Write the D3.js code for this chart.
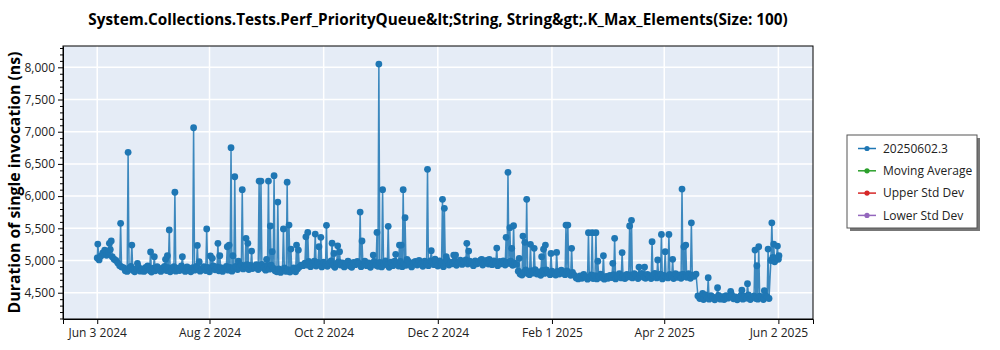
<!DOCTYPE html>
<html>
<head>
<meta charset="utf-8">
<script src="https://cdn.jsdelivr.net/npm/d3@7"></script>
<style>
  html, body { margin: 0; padding: 0; background: #fff; }
  svg { display: block; font-family: "Open Sans", "Noto Sans", sans-serif; }
</style>
</head>
<body>
<svg id="chart" width="1000" height="350"></svg>
<script>
// Benchmark run history: one typical run per day starting at firstRunDate,
// plus the additional (outlier) runs recorded on the same days.
const firstRunDate = "2024-06-03";

const dailyValues = [
  5040, 5010, 5070, 5120, 5160, 5080, 5140, 5170, 5060, 5020, 5000,
  4960, 4920, 4900,
  4890, 4840, 4830, 4880, 4910, 4850, 4825, 4875, 4900, 4835,
  4870, 4830, 4895, 4915, 4845, 4820, 4880, 4840, 4905, 4860,
  4830, 4885, 4910, 4845, 4890, 4825, 4870, 4905, 4835, 4880,
  4845, 4915, 4875, 4830, 4900, 4860, 4825, 4890, 4850, 4910,
  4880, 4835, 4870, 4905, 4845, 4895, 4825, 4880, 4915, 4855,
  4900, 4840, 4890, 4830, 4875, 4910, 4850, 4895, 4835, 4885,
  4910, 4860, 4900, 4930, 4870, 4915, 4935, 4860, 4925, 4875,
  4895, 4935, 4860, 4920, 4940, 4880, 4850, 4925, 4865, 4930,
  4880, 4840, 4825, 4870, 4815, 4850, 4885, 4830, 4860, 4820,
  4840, 4885, 4825, 4870, 4900, 4930,
  4920, 4960, 4930, 4985, 4905, 4945, 4990, 4915, 4970, 4940,
  4900, 4975, 4935, 4910, 4965, 4995, 4925, 4895, 4955, 4980,
  4930, 4965, 4900, 4950, 4990, 4915, 4895, 4970, 4935, 4985,
  4955, 4905, 4940, 4990, 4920, 4965, 4895, 4945, 4985, 4925,
  4910, 4970, 4900, 4955, 4995, 4930, 4895, 4975, 4920, 4990,
  4960, 4915, 4985, 4905, 4950, 4925, 4995, 4940, 4900, 4970,
  4985, 4930, 5000, 4945, 4910, 4990, 4960, 4920, 4995, 4975,
  4935, 4990, 4915, 4995, 4960, 4905, 4980, 5005, 4930, 4970,
  4950, 4995, 4925, 4975, 5005, 4940, 4985, 5010, 4945, 4990,
  4975, 4920, 4995, 4950, 4980, 5010, 4930, 4965, 5000, 4945,
  4980, 4935, 4995, 4960, 4920, 4985, 4950, 4995, 4930, 4970,
  4955, 4990, 4925, 4965, 4940,
  4835, 4790, 4775, 4820, 4855, 4800, 4780, 4840, 4805, 4860,
  4790, 4825, 4770, 4845, 4800, 4855, 4815, 4780, 4835, 4795,
  4775, 4830, 4790, 4850, 4810, 4780, 4840, 4800, 4770, 4815,
  4770, 4730, 4715, 4760, 4725, 4785, 4745, 4710, 4735, 4775,
  4720, 4765, 4715, 4750, 4790, 4730, 4710, 4755, 4725, 4770,
  4735, 4780, 4715, 4750, 4795, 4730, 4765, 4720, 4785, 4745,
  4775, 4730, 4795, 4760, 4720, 4780, 4800, 4740, 4725, 4785,
  4745, 4720, 4775, 4800, 4730, 4760, 4790, 4715, 4770, 4745,
  4730, 4785, 4760, 4720, 4795, 4740, 4775, 4725, 4790, 4755,
  4740, 4795, 4725, 4770, 4755, 4790,
  4450, 4410, 4440, 4395, 4465, 4420, 4400, 4455, 4430, 4390,
  4425, 4460, 4400, 4440, 4395, 4455, 4415, 4445, 4470, 4405,
  4435, 4390, 4425, 4460, 4400, 4445, 4415, 4465, 4395, 4430,
  4450, 4410, 4400, 4445, 4425, 4395, 4460, 4435, 4410,
  5000, 5050, 4980, 5040, 5020
];

// Extra runs: offset in days from firstRunDate and measured duration (ns)
const extraOffsets = [
  0.3, 6.5, 7.5, 12.5, 16.5, 18.5, 21.5, 28.5, 30.5, 36.5,
  37.5, 38.5, 41.5, 45.5, 51.5, 53.5, 54.5, 58.5, 60.5, 61.5,
  64.5, 65.5, 69.5, 70.5, 71.5, 72.5, 73.5, 75.5, 77.5, 79.5,
  80.5, 82.5, 86.5, 87.5, 90.5, 91.5, 92.5, 93.5, 94.5, 96.5,
  99.5, 101.5, 102.5, 103.5, 106.5, 107.5, 111.5, 112.5, 116.5, 118.5,
  119.5, 122.5, 125.5, 126.5, 128.5, 129.5, 140.5, 141.5, 147.5, 149.5,
  150.5, 152.5, 155.5, 159.5, 161.5, 162.5, 163.5, 164.5, 165.5, 176.5,
  178.5, 180.5, 184.5, 185.5, 186.5, 190.5, 191.5, 197.5, 198.5, 205.5,
  209.5, 213.5, 218.5, 219.5, 220.5, 221.5, 222.5, 225.5, 227.5, 228.5,
  229.5, 231.5, 233.5, 237.5, 238.5, 239.5, 242.5, 245.5, 250.5, 251.5,
  253.5, 262.5, 264.5, 266.5, 267.5, 270.5, 275.5, 276.5, 280.5, 284.5,
  285.5, 289.5, 292.5, 296.5, 299.5, 301.5, 303.5, 305.5, 307.5, 312.5,
  313.5, 314.5, 317.5, 323.5, 326.5, 331.5, 338.5, 344.5, 347.5, 351.5,
  352.5, 353.5, 356.5, 358.5, 360.5, 361.5, 363.5, 364.3
];
const extraValues = [
  5256, 5267, 5303, 5577, 6680, 5240, 4956, 5132, 5060, 5019,
  5075, 5475, 6060, 5060, 7062, 5235, 4981, 5490, 5070, 5034,
  5267, 5075, 5214, 5240, 6752, 5075, 6301, 4992, 6100, 5344,
  5267, 5147, 6233, 6233, 5019, 6233, 5536, 5137, 6317, 5908,
  5490, 6217, 5550, 5178, 5240, 5163, 5368, 5436, 5411, 5214,
  5360, 5547, 5270, 5110, 5228, 5137, 5753, 5303, 5085, 5436,
  8051, 6100, 5531, 5096, 5240, 5240, 6100, 5665, 5019, 6416,
  5153, 5023, 5950, 5810, 5060, 5085, 5085, 5267, 5147, 5019,
  5019, 5194, 5360, 6370, 5510, 5189, 5540, 5034, 5380, 5283,
  5950, 5251, 5189, 5060, 5175, 5240, 5110, 5125, 5550, 5550,
  5189, 5432, 5432, 5432, 4990, 5075, 4956, 5344, 5121, 5536,
  5624, 4898, 4898, 5292, 5008, 5405, 5137, 5405, 5019, 6110,
  5214, 5240, 5585, 4490, 4733, 4578, 4522, 4540, 4640, 5163,
  4919, 5214, 4531, 5178, 5585, 5256, 5225, 5075
];

// Axis ticks
const xTickDates = ["2024-06-03", "2024-08-02", "2024-10-02", "2024-12-02", "2025-02-01", "2025-04-02", "2025-06-02"];
const xTickLabels = ["Jun 3 2024", "Aug 2 2024", "Oct 2 2024", "Dec 2 2024", "Feb 1 2025", "Apr 2 2025", "Jun 2 2025"];
const yTicks = [4500, 5000, 5500, 6000, 6500, 7000, 7500, 8000];
const yMinorStep = 100;

const xDomain = ["2024-05-15T17:00:00Z", "2025-06-20T12:00:00Z"];
const yDomain = [4092, 8331];

const legendLabels = ["20250602.3", "Moving Average", "Upper Std Dev", "Lower Std Dev"];
const legendColors = ["#1f77b4", "#2ca02c", "#d62728", "#9467bd"];

const titleText = "System.Collections.Tests.Perf_PriorityQueue&lt;String, String&gt;.K_Max_Elements(Size: 100)";
const yTitleText = "Duration of single invocation (ns)";

// ---------------------------------------------------------------
const DAY = 864e5;
const t0 = new Date(firstRunDate + "T00:00:00Z").getTime();

const points = dailyValues.map((v, i) => ({ date: new Date(t0 + i * DAY), value: v }))
  .concat(extraOffsets.map((o, i) => ({ date: new Date(t0 + o * DAY), value: extraValues[i] })))
  .sort((a, b) => a.date - b.date);

const plot = { left: 63, top: 46, right: 813, bottom: 319 };
const svg = d3.select("#chart");

const x = d3.scaleUtc()
  .domain(xDomain.map(d => new Date(d)))
  .range([plot.left, plot.right]);
const y = d3.scaleLinear()
  .domain(yDomain)
  .range([plot.bottom, plot.top]);

// background
svg.append("rect")
  .attr("x", plot.left).attr("y", plot.top)
  .attr("width", plot.right - plot.left).attr("height", plot.bottom - plot.top)
  .attr("fill", "#e5ecf6");

const xTickVals = xTickDates.map(d => new Date(d + "T00:00:00Z"));

// grid lines
const grid = svg.append("g").attr("stroke", "#fff").attr("stroke-width", 1.5);
grid.selectAll(".gx").data(xTickVals).join("line")
  .attr("x1", d => x(d)).attr("x2", d => x(d))
  .attr("y1", plot.top).attr("y2", plot.bottom);
grid.selectAll(".gy").data(yTicks).join("line")
  .attr("x1", plot.left).attr("x2", plot.right)
  .attr("y1", d => y(d)).attr("y2", d => y(d));

// series
svg.append("clipPath").attr("id", "plotClip").append("rect")
  .attr("x", plot.left).attr("y", plot.top)
  .attr("width", plot.right - plot.left).attr("height", plot.bottom - plot.top);

const series = svg.append("g").attr("clip-path", "url(#plotClip)");
const line = d3.line().x(d => x(d.date)).y(d => y(d.value));
series.append("path")
  .datum(points)
  .attr("fill", "none")
  .attr("stroke", "#1f77b4")
  .attr("stroke-opacity", 0.85)
  .attr("stroke-width", 1.5)
  .attr("d", line);
series.selectAll("circle").data(points).join("circle")
  .attr("cx", d => x(d.date))
  .attr("cy", d => y(d.value))
  .attr("r", 3.4)
  .attr("fill", "#1f77b4");

// frame
svg.append("rect")
  .attr("x", plot.left).attr("y", plot.top)
  .attr("width", plot.right - plot.left).attr("height", plot.bottom - plot.top)
  .attr("fill", "none").attr("stroke", "#000").attr("stroke-width", 1);

// x axis
const xAxis = d3.axisBottom(x)
  .tickValues(xTickVals)
  .tickFormat((d, i) => xTickLabels[i])
  .tickSizeOuter(0)
  .tickSize(5)
  .tickPadding(4);
const gx = svg.append("g").attr("transform", `translate(0,${plot.bottom})`).call(xAxis);
gx.select(".domain").attr("stroke", "#000");
gx.selectAll(".tick line").attr("stroke", "#000");
gx.selectAll(".tick text").attr("font-size", 12).attr("fill", "#222")
  .attr("font-family", "'Open Sans', sans-serif");

// y axis (major + minor ticks)
const yMinor = d3.range(Math.ceil(yDomain[0] / yMinorStep) * yMinorStep, yDomain[1], yMinorStep)
  .filter(v => !yTicks.includes(v));
const yAxisMinor = d3.axisLeft(y).tickValues(yMinor).tickFormat("").tickSize(3).tickSizeOuter(0);
const gyMinor = svg.append("g").attr("transform", `translate(${plot.left},0)`).call(yAxisMinor);
gyMinor.select(".domain").remove();
gyMinor.selectAll(".tick line").attr("stroke", "#000");

const yAxis = d3.axisLeft(y)
  .tickValues(yTicks)
  .tickFormat(d3.format(","))
  .tickSize(5)
  .tickSizeOuter(0)
  .tickPadding(3);
const gy = svg.append("g").attr("transform", `translate(${plot.left},0)`).call(yAxis);
gy.select(".domain").attr("stroke", "#000");
gy.selectAll(".tick line").attr("stroke", "#000");
gy.selectAll(".tick text").attr("font-size", 12).attr("fill", "#222")
  .attr("font-family", "'Open Sans', sans-serif");

// title, sized to span its intended width
const title = svg.append("text")
  .attr("x", (plot.left + plot.right) / 2)
  .attr("y", 25)
  .attr("text-anchor", "middle")
  .attr("font-weight", "bold")
  .attr("font-size", 15)
  .attr("fill", "#000")
  .text(titleText);
const tw = title.node().getComputedTextLength();
title.attr("font-size", 15 * 700 / tw);

const yTitle = svg.append("text")
  .attr("transform", `translate(20,${(plot.top + plot.bottom) / 2}) rotate(-90)`)
  .attr("text-anchor", "middle")
  .attr("font-weight", "bold")
  .attr("font-size", 16)
  .attr("fill", "#000")
  .text(yTitleText);
const yw = yTitle.node().getComputedTextLength();
yTitle.attr("font-size", 16 * 262 / yw);

// legend
const lg = svg.append("g").attr("transform", "translate(847,135)");
lg.append("rect").attr("x", 3).attr("y", 3).attr("width", 130).attr("height", 93)
  .attr("fill", "#777");
lg.append("rect").attr("x", 0).attr("y", 0).attr("width", 130).attr("height", 93)
  .attr("fill", "#fff").attr("stroke", "#555").attr("stroke-width", 1);
const rows = lg.selectAll(".row").data(legendLabels).join("g")
  .attr("transform", (d, i) => `translate(0,${13.5 + i * 22.3})`);
rows.append("line").attr("x1", 11).attr("x2", 29).attr("y1", 0).attr("y2", 0)
  .attr("stroke", (d, i) => legendColors[i]).attr("stroke-width", 1.5);
rows.append("circle").attr("cx", 20).attr("cy", 0).attr("r", 2.6)
  .attr("fill", (d, i) => legendColors[i]);
rows.append("text").attr("x", 36).attr("y", 0).attr("dy", "0.35em")
  .attr("font-size", 12).attr("fill", "#222")
  .text(d => d);
</script>
</body>
</html>
